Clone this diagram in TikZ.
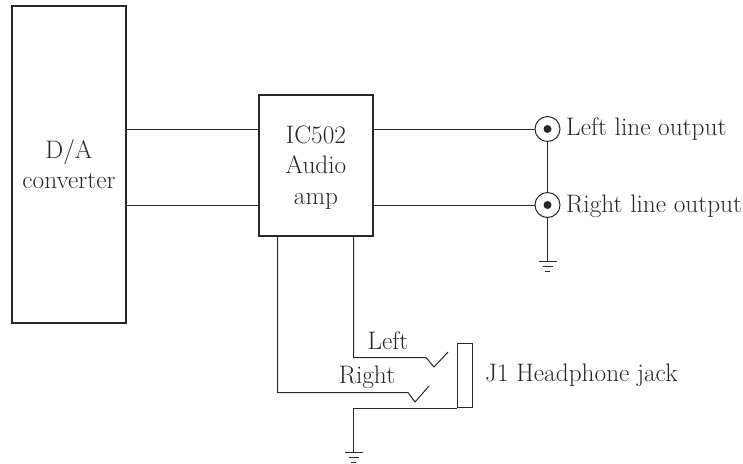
\documentclass[tikz,border=0pt]{standalone}
\usepackage{tikz}
\usetikzlibrary{
  positioning,
  calc
}
\definecolor{inkline}{RGB}{40,40,40}
\tikzset{
  unitbox/.style={draw=inkline, line width=0.65mm, inner sep=0pt, align=center},
  wire/.style={draw=inkline, line width=0.3mm},
  jackout/.style={circle, draw=inkline, line width=0.3mm, fill=white, minimum size=0.75cm, inner sep=0pt},
  jackdot/.style={circle, fill=inkline, minimum size=0.24cm, inner sep=0pt},
  lbl/.style={text=inkline, font=\fontsize{21.6}{26}\selectfont, inner sep=0pt, align=center},
  gnd/.pic={
    \draw[wire] (-9,0) -- (9,0);
    \draw[wire] (-5,5) -- (5,5);
    \draw[wire] (-2.5,10) -- (2.5,10);
  }
}

\begin{document}
\begin{tikzpicture}[x=0.03cm, y=-0.03cm]
            \useasboundingbox (0,0) rectangle (743,463);

            % D/A converter
            \node[unitbox, minimum width=3.42cm, minimum height=9.51cm] (dac) at (69,164.5) {};
            \node[lbl] (dactext) at (69,164) {D/A\\converter};

            % Audio amp
            \node[unitbox, minimum width=3.42cm, minimum height=4.23cm] (amp) at (316,165.5) {};
            \node[lbl] (amptext) at (316,167.5) {IC502\\Audio\\amp};

            % Line outputs
            \node[jackout] (leftout) at (547.5,129) {};
            \node[jackdot] (leftdot) at (leftout) {};
            \node[jackout] (rightout) at (547.5,205) {};
            \node[jackdot] (rightdot) at (rightout) {};
            \node[lbl, anchor=base west] (lefttext) at (566,135) {Left line output};
            \node[lbl, anchor=base west] (righttext) at (566,212) {Right line output};

            % Routing lines
            \draw[wire] (dac.east |- leftout) -- (amp.west |- leftout);
            \draw[wire] (dac.east |- rightout) -- (amp.west |- rightout);
            \draw[wire] (amp.east |- leftout) -- (leftout.west);
            \draw[wire] (amp.east |- rightout) -- (rightout.west);
            \draw[wire] (leftout.south) -- (rightout.north);
            \coordinate (lineground) at (547.5,261.5);
            \draw[wire] (rightout.south) -- (lineground);
            \pic at (lineground) {gnd};

            % Headphone jack
            \node[draw=inkline, line width=0.3mm, minimum width=0.45cm, minimum height=1.92cm, inner sep=0pt] (jack) at (465,375.5) {};
            \node[lbl, anchor=base west] (jacktext) at (485,381) {J1 Headphone jack};

            % Left and right contacts
            \coordinate (lefttip) at (448,352);
            \coordinate (righttip) at (429,386);
            \coordinate (jackground) at (353.5,452.5);
            \draw[wire] (353.5,236) |- (426,357.5) -- (434,367) -- (lefttip);
            \draw[wire] (277.5,236) |- (408,392.5) -- (415,402) -- (righttip);
            \draw[wire] (jack.south west) -| (jackground);
            \pic at (jackground) {gnd};
            \node[lbl] (lefttag) at (388,341) {Left};
            \node[lbl] (righttag) at (367,377) {Right};
        \end{tikzpicture}
\end{document}
